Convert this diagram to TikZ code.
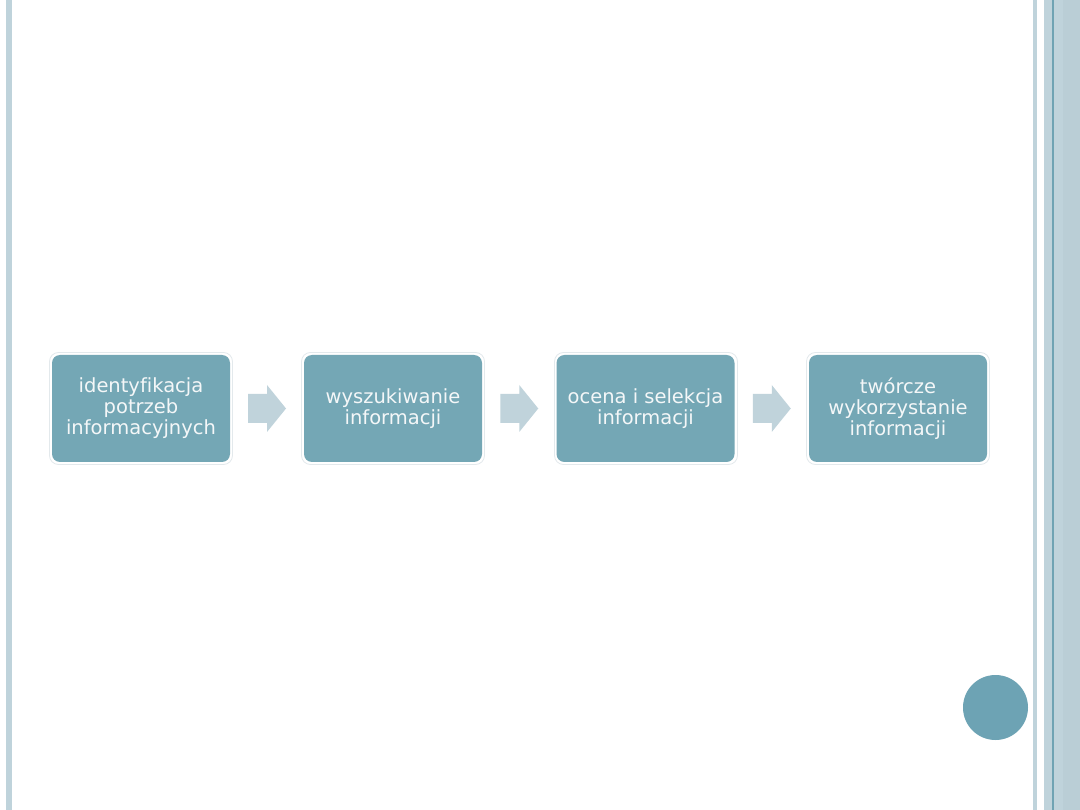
\documentclass[tikz,border=0pt]{standalone}
\usepackage{fontspec}
\setmainfont[Ligatures=NoCommon]{DejaVu Sans}
\definecolor{boxfill}{HTML}{74A7B5}
\definecolor{arrowfill}{HTML}{C0D3DB}
\definecolor{stripe}{HTML}{BFD3DB}
\definecolor{stripedark}{HTML}{6FA3B3}
\definecolor{stripemid}{HTML}{BACED6}
\definecolor{circfill}{HTML}{6DA3B4}
\definecolor{frame}{HTML}{E3E9EC}
\definecolor{boxtext}{HTML}{F4F7F8}
\begin{document}
\begin{tikzpicture}[x=1pt,y=-1pt,
  stepbox/.style={fill=boxfill, rounded corners=8pt, minimum width=178pt, minimum height=107pt,
    text=boxtext, align=center, font=\fontsize{19.5}{21}\selectfont, inner sep=0pt},
  boxframe/.style={draw=frame, line width=0.8pt, rounded corners=9pt},
  flowarrow/.style={fill=arrowfill, draw=none}]
\useasboundingbox (0,0) rectangle (1080,810);
\fill[white] (0,0) rectangle (1080,810);
% left stripe
\fill[stripe] (6,0) rectangle (12,810);
% right stripes
\fill[stripe] (1033,0) rectangle (1037,810);
\fill[stripe] (1044,0) rectangle (1080,810);
\fill[stripedark] (1052,0) rectangle (1054,810);
\fill[stripemid] (1063,0) rectangle (1080,810);
% circle
\fill[circfill] (995.5,707.5) circle (32.5);
% box frames
\foreach \x in {52,304,557,809} {
  \draw[boxframe] (\x-2.5,352.5) rectangle (\x+180.5,464.5);
}
\node[stepbox] (b1) at (141,408.5) {identyfikacja\\potrzeb\\informacyjnych};
\node[stepbox] (b2) at (393,408.5) {wyszukiwanie\\informacji};
\node[stepbox] (b3) at (645.5,408.5) {ocena i selekcja\\informacji};
\node[stepbox] (b4) at (898,408.5) {twórcze\\wykorzystanie\\informacji};
% arrows
\foreach \a/\b in {b1/b2,b2/b3,b3/b4} {
  \path (\a.east) -- (\b.west) coordinate[pos=0.5] (m);
  \fill[flowarrow] ([xshift=-19pt,yshift=-14.5pt]m) -- ([xshift=0pt,yshift=-14.5pt]m)
     -- ([xshift=0pt,yshift=-23.5pt]m) -- ([xshift=19pt,yshift=0pt]m)
     -- ([xshift=0pt,yshift=23.5pt]m) -- ([xshift=0pt,yshift=14.5pt]m)
     -- ([xshift=-19pt,yshift=14.5pt]m) -- cycle;
}
\end{tikzpicture}
\end{document}
